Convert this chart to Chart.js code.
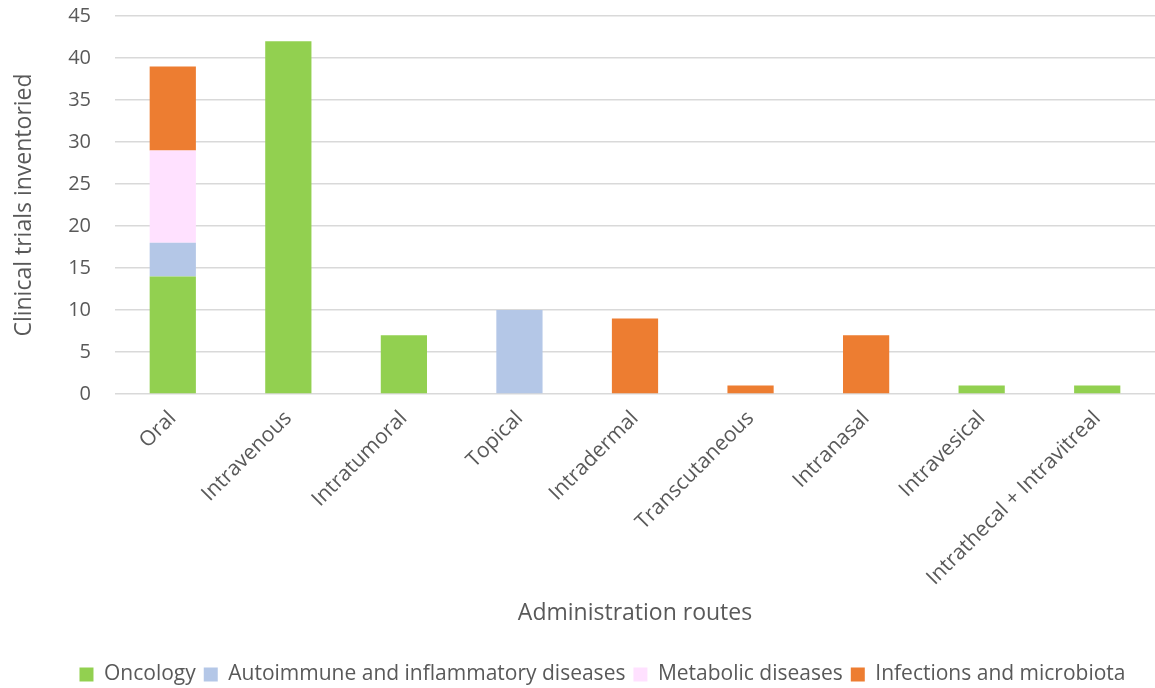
<!DOCTYPE html>
<html>
<head>
<meta charset="utf-8">
<script src="https://cdn.jsdelivr.net/npm/chart.js@4/dist/chart.umd.min.js"></script>
<style>
  html, body { margin: 0; padding: 0; background: #fff; }
  #wrap { width: 1155px; height: 688px; }
</style>
</head>
<body>
<div id="wrap"><canvas id="c" width="1155" height="688"></canvas></div>
<script>
// Administration routes and trial counts per therapeutic area
const routes = ['Oral', 'Intravenous', 'Intratumoral', 'Topical', 'Intradermal',
  'Transcutaneous', 'Intranasal', 'Intravesical', 'Intrathecal + Intravitreal'];
const oncology   = [14, 42, 7, 0, 0, 0, 0, 1, 1];
const autoimmune = [4, 0, 0, 10, 0, 0, 0, 0, 0];
const metabolic  = [11, 0, 0, 0, 0, 0, 0, 0, 0];
const infections = [10, 0, 0, 0, 9, 1, 7, 0, 0];
const yTicks = [0, 5, 10, 15, 20, 25, 30, 35, 40, 45];

const FONT = '"Open Sans", Lato, sans-serif';
const GREY = '#595959';

const whiteBg = {
  id: 'whiteBg',
  beforeDraw(chart) {
    const ctx = chart.ctx;
    ctx.save();
    ctx.fillStyle = '#ffffff';
    ctx.fillRect(0, 0, chart.width, chart.height);
    ctx.restore();
  }
};

// Nudge the legend box down and to the right after layout
const legendShift = {
  id: 'legendShift',
  afterLayout(chart) {
    const lg = chart.legend;
    if (!lg) return;
    lg.top += 7; lg.bottom += 7;
    lg.left += 25; lg.right += 25;
  }
};

function ds(label, data, color) {
  return { label, data, backgroundColor: color, borderWidth: 0,
    categoryPercentage: 1, barPercentage: 0.4 };
}

function noPad(scale) {
  scale.paddingTop = 0;
  scale.paddingBottom = 0;
  scale.paddingLeft = 0;
  scale.paddingRight = 0;
}

new Chart(document.getElementById('c'), {
  type: 'bar',
  data: {
    labels: routes,
    datasets: [
      ds('Oncology', oncology, '#92D050'),
      ds('Autoimmune and inflammatory diseases', autoimmune, '#B4C7E7'),
      ds('Metabolic diseases', metabolic, '#FFE1FF'),
      ds('Infections and microbiota', infections, '#ED7D31')
    ]
  },
  options: {
    responsive: false,
    animation: false,
    layout: { padding: { left: 0, right: 0, top: 16, bottom: 0 } },
    plugins: {
      tooltip: { enabled: false },
      legend: {
        position: 'bottom',
        labels: {
          font: { family: FONT, size: 21, lineHeight: 1 },
          color: GREY,
          boxWidth: 14,
          boxHeight: 14,
          padding: 8
        }
      }
    },
    scales: {
      x: {
        stacked: true,
        grid: { display: false },
        border: { display: false },
        ticks: {
          font: { family: FONT, size: 21 },
          color: GREY,
          minRotation: 45,
          maxRotation: 45,
          padding: 4
        },
        title: {
          display: true,
          text: 'Administration routes',
          font: { family: FONT, size: 23 },
          color: GREY,
          padding: { top: 0, bottom: 22 }
        },
        afterFit(scale) { noPad(scale); scale.height = 255; }
      },
      y: {
        stacked: true,
        min: 0,
        max: 45,
        afterBuildTicks(scale) { scale.ticks = yTicks.map(v => ({ value: v })); },
        grid: { color: '#D9D9D9', lineWidth: 1.5, drawTicks: false },
        border: { display: false },
        ticks: {
          font: { family: FONT, size: 20 },
          color: GREY,
          padding: 24
        },
        title: {
          display: true,
          text: 'Clinical trials inventoried',
          font: { family: FONT, size: 23 },
          color: GREY,
          padding: { top: 11, bottom: 4 }
        },
        afterFit(scale) { noPad(scale); scale.width = 115; }
      }
    }
  },
  plugins: [whiteBg, legendShift]
});
</script>
</body>
</html>
